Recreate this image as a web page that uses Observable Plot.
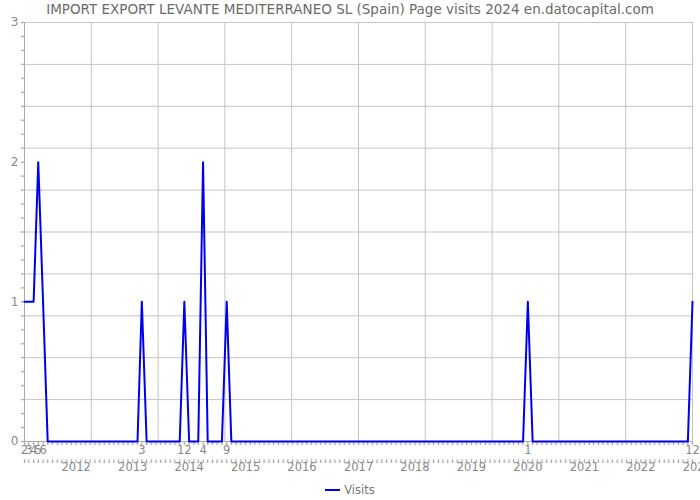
<!DOCTYPE html>
<html>
<head>
<meta charset="utf-8">
<script src="https://cdn.jsdelivr.net/npm/d3@7"></script>
<script src="https://cdn.jsdelivr.net/npm/@observablehq/plot@0.6"></script>
<style>
  html, body { margin: 0; padding: 0; background: #fff; overflow: hidden; }
  #wrap { position: relative; width: 700px; height: 500px; font-family: "DejaVu Sans", sans-serif; }
  #title { position: absolute; left: 0; top: 1px; width: 700px; text-align: center; font-size: 13.5px; color: #6a6a6a; white-space: nowrap; }
  #legend { position: absolute; left: 0; top: 483px; width: 700px; text-align: center; font-size: 11.5px; color: #777; }
  #legend .sw { display: inline-block; width: 15px; height: 0; border-top: 2.5px solid #0000ee; vertical-align: middle; margin-right: 4px; position: relative; top: -1px; }
</style>
</head>
<body>
<div id="wrap">
  <div id="title">IMPORT EXPORT LEVANTE MEDITERRANEO SL (Spain) Page visits 2024 en.datocapital.com</div>
  <div id="chart"></div>
  <div id="legend"><span class="sw"></span>Visits</div>
</div>
<script>
// Data: monthly page visits, Feb 2011 – Dec 2022
const firstMonth = "2011-02";
const visits2011 = [1, 1, 1, 2, 1, 0, 0, 0, 0, 0, 0];          // Feb..Dec
const visits2012 = [0, 0, 0, 0, 0, 0, 0, 0, 0, 0, 0, 0];
const visits2013 = [0, 0, 1, 0, 0, 0, 0, 0, 0, 0, 0, 1];
const visits2014 = [0, 0, 0, 2, 0, 0, 0, 0, 1, 0, 0, 0];
const visits2015 = [0, 0, 0, 0, 0, 0, 0, 0, 0, 0, 0, 0];
const visits2016 = [0, 0, 0, 0, 0, 0, 0, 0, 0, 0, 0, 0];
const visits2017 = [0, 0, 0, 0, 0, 0, 0, 0, 0, 0, 0, 0];
const visits2018 = [0, 0, 0, 0, 0, 0, 0, 0, 0, 0, 0, 0];
const visits2019 = [0, 0, 0, 0, 0, 0, 0, 0, 0, 0, 0, 0];
const visits2020 = [1, 0, 0, 0, 0, 0, 0, 0, 0, 0, 0, 0];
const visits2021 = [0, 0, 0, 0, 0, 0, 0, 0, 0, 0, 0, 0];
const visits2022 = [0, 0, 0, 0, 0, 0, 0, 0, 0, 0, 0, 1];
const yearLabels = ["2012","2013","2014","2015","2016","2017","2018","2019","2020","2021","2022","2023"];
const yTickLabels = [0, 1, 2, 3];

const allVisits = [].concat(visits2011, visits2012, visits2013, visits2014, visits2015, visits2016,
  visits2017, visits2018, visits2019, visits2020, visits2021, visits2022);
const start = new Date(firstMonth + "-01T00:00:00");
const data = allVisits.map((v, i) => ({ date: d3.timeMonth.offset(start, i), visits: v }));
const end = data[data.length - 1].date;
const months = data.map(d => d.date);
const nonzero = data.filter(d => d.visits > 0);
const years = yearLabels.map(y => ({ date: new Date(y + "-01-01T00:00:00"), label: y }));

const vGrid = d3.range(11).map(i => new Date(+start + i * (end - start) / 10));
const hGrid = d3.range(11).map(i => i * 0.3);
const yMinor = d3.range(31).map(i => i * 0.1);

const gray = "#888";
const chart = Plot.plot({
  width: 700,
  height: 500,
  marginTop: 22,
  marginBottom: 59,
  marginLeft: 24,
  marginRight: 8,
  style: { fontFamily: "DejaVu Sans, sans-serif", fontSize: "11px", color: gray, background: "transparent", overflow: "visible" },
  x: { type: "time", domain: [start, end], axis: null },
  y: { domain: [0, 3], axis: null },
  marks: [
    Plot.ruleY(hGrid, { stroke: "#c4c4c4", strokeWidth: 1 }),
    Plot.ruleX(vGrid, { stroke: "#c4c4c4", strokeWidth: 1 }),
    Plot.ruleX([start], { stroke: "#aaa" }),
    Plot.ruleY([0], { stroke: "#aaa" }),
    Plot.vector(yMinor, { y: d => d, frameAnchor: "left", length: 3, rotate: -90, anchor: "start", stroke: "#aaa", strokeWidth: 1 }),
    Plot.text(yTickLabels, { y: d => d, text: d => String(d), frameAnchor: "left", textAnchor: "end", dx: -6, fill: gray, fontSize: 12 }),
    Plot.vector(months, { x: d => d, frameAnchor: "bottom", length: 3, rotate: 180, anchor: "start", stroke: "#aaa", strokeWidth: 1 }),
    Plot.text(nonzero, { x: "date", text: d => String(d.date.getMonth() + 1), frameAnchor: "bottom", dy: 12, fill: gray, fontSize: 11.5 }),
    Plot.vector(months, { x: d => d, frameAnchor: "bottom", length: 3, rotate: 180, anchor: "start", dy: 18, stroke: "#aaa", strokeWidth: 1 }),
    Plot.text(years, { x: "date", text: "label", frameAnchor: "bottom", dy: 29, fill: gray, fontSize: 11.5 }),
    Plot.line(data, { x: "date", y: "visits", stroke: "#0000ee", strokeWidth: 2 })
  ]
});
document.getElementById("chart").appendChild(chart);
</script>
</body>
</html>
